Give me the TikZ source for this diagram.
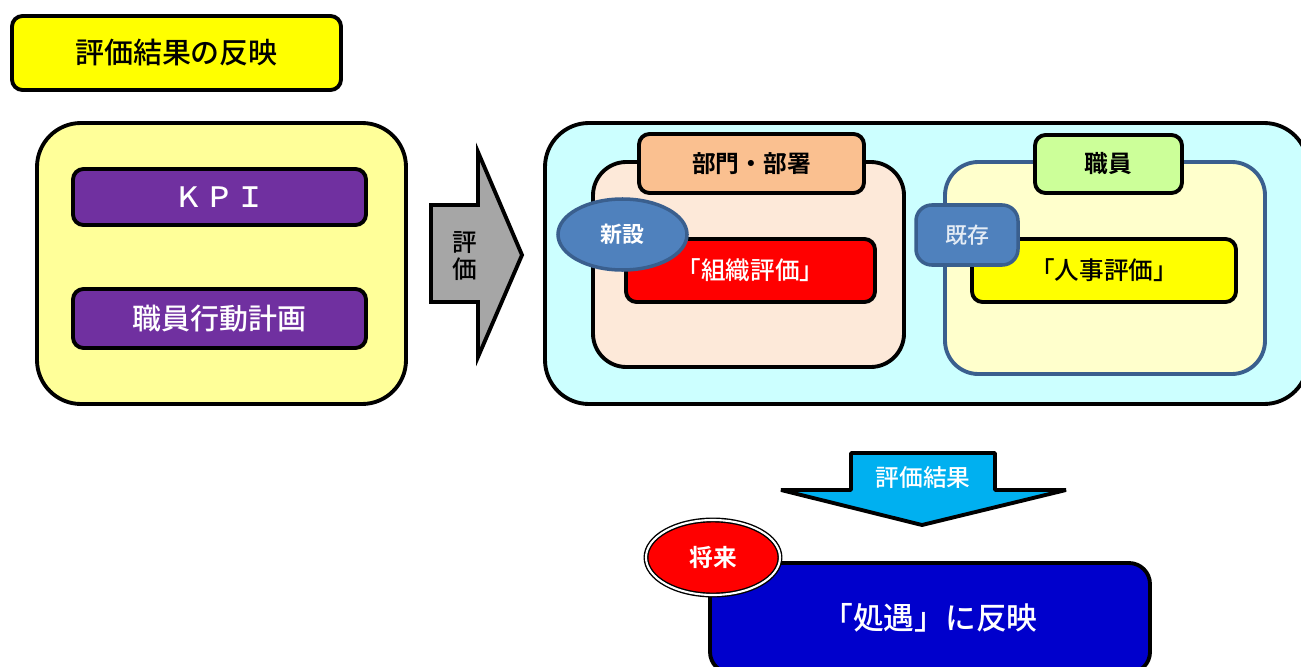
\documentclass[tikz,border=0pt]{standalone}
\usepackage{fontspec}
\newfontfamily\jp{Noto Sans CJK JP}[UprightFont=* Medium, BoldFont=* Bold]
\usetikzlibrary{shapes.geometric}
\definecolor{cYellow}{HTML}{FFFF00}
\definecolor{cLightY}{HTML}{FFFF99}
\definecolor{cPaleY}{HTML}{FFFFCC}
\definecolor{cPurple}{HTML}{7030A0}
\definecolor{cGray}{HTML}{A6A6A6}
\definecolor{cCyan}{HTML}{CCFFFF}
\definecolor{cPeach}{HTML}{FDE9D9}
\definecolor{cOrange}{HTML}{FAC090}
\definecolor{cBlue}{HTML}{4F81BD}
\definecolor{cBlueD}{HTML}{3A5F8E}
\definecolor{cGreen}{HTML}{CCFF99}
\definecolor{cArrow}{HTML}{00B0F0}
\definecolor{cNavy}{HTML}{0000CC}
\newcommand\pw[1]{#1*0.02cm}
\begin{document}
\begin{tikzpicture}[x=0.02cm,y=-0.02cm,
  bx/.style={draw=black, line width=2.2pt, rectangle, inner sep=0pt, font=\jp},
  bigbox/.style={bx, rounded corners=25pt},
  midbox/.style={bx, rounded corners=19pt},
  smallbox/.style={bx, rounded corners=6pt},
  oval/.style={ellipse, inner sep=0pt, font=\jp},
]
\useasboundingbox (0,0) rectangle (1301,666);

% title
\node[smallbox, fill=cYellow, minimum width=\pw{329}, minimum height=\pw{74}, font=\jp\fontsize{16.5pt}{18pt}\selectfont] (title) at (176.5,53) {評価結果の反映};

% left group
\node[bigbox, fill=cLightY, minimum width=\pw{369}, minimum height=\pw{281}] (left) at (221.5,263.5) {};
\node[smallbox, fill=cPurple, text=white, minimum width=\pw{293}, minimum height=\pw{56}, font=\jp\fontsize{16pt}{18pt}\selectfont] (kpi) at (219.5,197) {Ｋ\hspace{0.1em}Ｐ\hspace{0.1em}Ｉ};
\node[smallbox, fill=cPurple, text=white, minimum width=\pw{293}, minimum height=\pw{59}, font=\jp\fontsize{16.5pt}{18pt}\selectfont] (plan) at (219.5,318.5) {職員行動計画};

% right arrow
\draw[line width=2.2pt, fill=cGray, line join=miter] (431,205) -- (478,205) -- (478,152) -- (522,255) -- (478,357) -- (478,302) -- (431,302) -- cycle;
\node[font=\jp\fontsize{14pt}{15.5pt}\selectfont, align=center, inner sep=0pt] (evalA) at (465,256) {評\\価};

% cyan group
\node[bigbox, fill=cCyan, minimum width=\pw{763}, minimum height=\pw{281}] (cyan) at (926.5,263.5) {};

% department
\node[midbox, fill=cPeach, minimum width=\pw{311}, minimum height=\pw{205}] (dept) at (748.5,264.5) {};
\node[smallbox, fill=cOrange, minimum width=\pw{225}, minimum height=\pw{59}, font=\jp\bfseries\fontsize{13.5pt}{15pt}\selectfont] (deptL) at (751.5,163.5) {部門・部署};
\node[smallbox, fill=red, text=white, minimum width=\pw{249}, minimum height=\pw{63}, font=\jp\fontsize{14pt}{15pt}\selectfont] (org) at (750.5,270.5) {「組織評価」};
\node[oval, draw=cBlueD, line width=2pt, fill=cBlue, text=white, minimum width=\pw{129}, minimum height=\pw{71}, font=\jp\bfseries\fontsize{12.5pt}{14pt}\selectfont] (new) at (622.5,234.5) {新設};

% staff
\node[bx, draw=cBlueD, rounded corners=19pt, fill=cPaleY, minimum width=\pw{320}, minimum height=\pw{212}] (staff) at (1105,268) {};
\node[smallbox, fill=cGreen, minimum width=\pw{147}, minimum height=\pw{58}, font=\jp\bfseries\fontsize{13.5pt}{15pt}\selectfont] (staffL) at (1108.5,164) {職員};
\node[smallbox, fill=cYellow, minimum width=\pw{264}, minimum height=\pw{63}, font=\jp\fontsize{14pt}{15pt}\selectfont] (hr) at (1104,270.5) {「人事評価」};
\node[bx, draw=cBlueD, line width=2pt, rounded corners=9pt, fill=cBlue, text=white!85!cBlue, minimum width=\pw{102}, minimum height=\pw{60}, font=\jp\fontsize{12.5pt}{14pt}\selectfont] (exist) at (967,235) {既存};

% down arrow
\draw[line width=2.2pt, fill=cArrow, line join=bevel] (851,453) -- (995,453) -- (995,490) -- (1066,490) -- (922,525) -- (781,490) -- (851,490) -- cycle;
\node[font=\jp\fontsize{13.5pt}{15pt}\selectfont, text=white, inner sep=0pt] (evalR) at (923,478) {評価結果};

% treatment
\node[bx, rounded corners=12pt, fill=cNavy, text=white, minimum width=\pw{440}, minimum height=\pw{110}, font=\jp\fontsize{17.5pt}{19pt}\selectfont] (treat) at (930,618) {「処遇」に反映};
\node[oval, draw=black, double=white, double distance=1.2pt, line width=0.8pt, fill=red, text=white, minimum width=\pw{134}, minimum height=\pw{75}, font=\jp\bfseries\fontsize{13.5pt}{15pt}\selectfont] (future) at (713,557.5) {将来};
\end{tikzpicture}
\end{document}
